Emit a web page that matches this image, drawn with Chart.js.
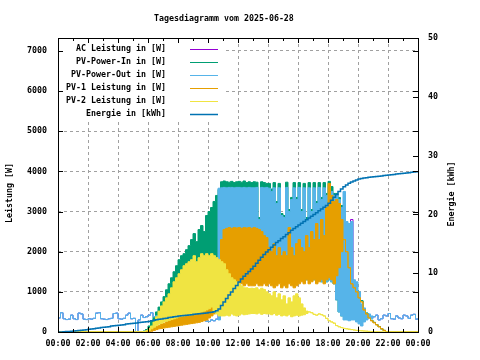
<!DOCTYPE html>
<html>
<head>
<meta charset="utf-8">
<script src="https://cdn.jsdelivr.net/npm/chart.js@4.4.1/dist/chart.umd.min.js"></script>
<style>
  html, body { margin: 0; padding: 0; background: #fff; }
</style>
</head>
<body>
<canvas id="chart" width="480" height="360"></canvas>
<script>
// sample times, every 10 minutes from 00:00 to 24:00
const sampleMinutes = Array.from({ length: 145 }, (_, i) => i * 10);

const xTickLabels = ["00:00", "02:00", "04:00", "06:00", "08:00", "10:00", "12:00",
                     "14:00", "16:00", "18:00", "20:00", "22:00", "00:00"];
const powerTicks = [0, 1000, 2000, 3000, 4000, 5000, 6000, 7000];
const energyTicks = [0, 10, 20, 30, 40, 50];

const seriesNames = ["AC Leistung in [W]", "PV-Power-In in [W]", "PV-Power-Out in [W]",
                     "PV-1 Leistung in [W]", "PV-2 Leistung in [W]", "Energie in [kWh]"];
const seriesColors = ["#9400d3", "#009e73", "#56b4e9", "#e69f00", "#f0e442", "#0072b2"];

// the power values flicker fast, so each one is kept as an upper and lower envelope
const acPower = [
  350, 480, 330, 310, 320, 420,
  330, 310, 470, 450, 320, 310,
  330, 320, 340, 470, 480, 330,
  320, 310, 330, 340, 460, 470,
  330, 320, 340, 420, 470, 330,
  340, 0, 300, 420, 360, 380,
  420, 480, 380, 400, 320, 300,
  290, 280, 300, 270, 260, 280,
  260, 300, 270, 280, 300, 290,
  280, 300, 320, 300, 310, 270,
  260, 300, 280, 320, 2000, 2200,
  2500, 2500, 2500, 2500, 2500, 2500,
  2500, 2500, 2500, 2500, 2500, 2500,
  2400, 2400, 2200, 2400, 2400, 2400,
  2300, 2300, 2300, 2200, 2300, 2100,
  2100, 2300, 2100, 2200, 2300, 2200,
  2300, 2100, 2300, 2000, 2300, 2100,
  2300, 2200, 2300, 2200, 2300, 2200,
  2300, 2300, 2200, 2000, 1500, 1700,
  1800, 1500, 1500, 2800, 800, 700,
  600, 400, 400, 370, 400, 360,
  380, 420, 300, 330, 420, 400,
  460, 330, 320, 400, 350, 330,
  420, 400, 340, 420, 440, 320,
  330
];

const pvInHi = [
  0, 0, 0, 0, 0, 0,
  0, 0, 0, 0, 0, 0,
  0, 0, 0, 0, 0, 0,
  0, 0, 0, 0, 0, 0,
  0, 0, 0, 0, 0, 0,
  0, 0, 0, 0, 20, 60,
  150, 260, 380, 500, 620, 750,
  880, 1050, 1200, 1350, 1500, 1650,
  1800, 1900, 1950, 2050, 2150, 2300,
  2450, 2250, 2550, 2650, 2500, 2900,
  3000, 3100, 3250, 3400, 3550, 3740,
  3760, 3740, 3730, 3750, 3720, 3740,
  3750, 3730, 3760, 3720, 3740, 3720,
  3740, 3730, 2850, 3740, 3720, 3700,
  3700, 3560, 3720, 3250, 3700, 2950,
  2900, 3730, 3050, 3350, 3720, 3350,
  3720, 3050, 3700, 2850, 3720, 3050,
  3720, 3250, 3720, 3350, 3720, 3450,
  3750, 3620, 3450, 3450, 3350, 3150,
  2400, 2100, 1700, 1300, 1150, 1040,
  890, 780, 580, 470, 370, 290,
  240, 185, 135, 80, 40, 10,
  0, 0, 0, 0, 0, 0,
  0, 0, 0, 0, 0, 0,
  0
];
const pvInLo = [
  0, 0, 0, 0, 0, 0,
  0, 0, 0, 0, 0, 0,
  0, 0, 0, 0, 0, 0,
  0, 0, 0, 0, 0, 0,
  0, 0, 0, 0, 0, 0,
  0, 0, 0, 0, 20, 60,
  100, 150, 250, 380, 500, 620,
  720, 820, 920, 1050, 1200, 1300,
  1400, 1500, 1600, 1650, 1700, 1750,
  1850, 1700, 1800, 1900, 1850, 1900,
  1850, 1900, 1850, 1800, 1750, 1700,
  1500, 1550, 1500, 1600, 1500, 1550,
  1500, 1550, 1600, 1500, 1550, 1500,
  1500, 1450, 1500, 1450, 1400, 1450,
  1400, 1350, 1400, 1350, 1400, 1300,
  1350, 1300, 1350, 1300, 1350, 1300,
  1350, 1300, 1350, 1300, 1350, 1300,
  1300, 1250, 1300, 1250, 1300, 1250,
  1300, 1250, 1200, 800, 500, 400,
  2400, 2100, 1700, 1300, 1150, 1040,
  890, 780, 580, 470, 370, 290,
  240, 185, 135, 80, 40, 10,
  0, 0, 0, 0, 0, 0,
  0, 0, 0, 0, 0, 0,
  0
];

const pvOutHi = [
  350, 480, 330, 310, 320, 420,
  330, 310, 470, 450, 320, 310,
  330, 320, 340, 470, 480, 330,
  320, 310, 330, 340, 460, 470,
  330, 320, 340, 420, 470, 330,
  340, 0, 300, 420, 360, 380,
  420, 480, 380, 400, 320, 300,
  290, 280, 300, 270, 260, 280,
  260, 300, 270, 280, 300, 290,
  280, 300, 320, 300, 310, 270,
  260, 300, 280, 320, 3580, 3590,
  3600, 3590, 3600, 3600, 3590, 3600,
  3600, 3590, 3600, 3590, 3600, 3590,
  3590, 3600, 2800, 3600, 3590, 3600,
  3580, 3500, 3590, 3200, 3590, 2900,
  2850, 3600, 3000, 3300, 3590, 3300,
  3600, 3000, 3590, 2800, 3590, 3000,
  3590, 3200, 3600, 3300, 3590, 3400,
  3600, 3500, 3400, 3400, 3300, 3100,
  3500, 2750, 2700, 2750, 1300, 1250,
  1000, 700, 600, 450, 450, 400,
  380, 420, 300, 330, 420, 400,
  460, 330, 320, 400, 350, 330,
  420, 400, 340, 420, 440, 320,
  330
];
const pvOutLo = [
  350, 480, 330, 310, 320, 420,
  330, 310, 470, 450, 320, 310,
  330, 320, 340, 470, 480, 330,
  320, 310, 330, 340, 460, 470,
  330, 320, 340, 420, 470, 330,
  340, 0, 300, 420, 360, 380,
  420, 480, 380, 400, 320, 300,
  290, 280, 300, 270, 260, 280,
  260, 300, 270, 280, 300, 290,
  280, 300, 320, 300, 310, 270,
  260, 300, 280, 320, 300, 500,
  1500, 1550, 1500, 1600, 1500, 1550,
  1500, 1550, 1600, 1500, 1550, 1500,
  1500, 1450, 1500, 1450, 1400, 1450,
  1400, 1350, 1400, 1350, 1400, 1300,
  1350, 1300, 1350, 1300, 1350, 1300,
  1350, 1300, 1350, 1300, 1350, 1300,
  1300, 1250, 1300, 1250, 1300, 1250,
  1300, 1250, 1200, 800, 500, 400,
  300, 300, 280, 300, 300, 250,
  200, 150, 250, 300, 350, 330,
  380, 420, 300, 330, 420, 400,
  460, 330, 320, 400, 350, 330,
  420, 400, 340, 420, 440, 320,
  330
];

const pv1Hi = [
  0, 0, 0, 0, 0, 0,
  0, 0, 0, 0, 0, 0,
  0, 0, 0, 0, 0, 0,
  0, 0, 0, 0, 0, 0,
  0, 0, 0, 0, 0, 0,
  0, 0, 0, 0, 0, 10,
  50, 80, 110, 140, 170, 200,
  220, 250, 280, 310, 340, 360,
  380, 400, 420, 440, 460, 480,
  500, 520, 540, 560, 600, 650,
  700, 800, 1000, 1400, 1800, 2300,
  2550, 2580, 2600, 2580, 2600, 2590,
  2600, 2580, 2600, 2590, 2600, 2580,
  2600, 2580, 2550, 2500, 2400, 2350,
  2100, 2000, 2200, 1900, 2100, 1900,
  2000, 1900, 2600, 2100, 1900, 2200,
  2300, 2100, 2000, 2400, 2100, 2500,
  2300, 2700, 2300, 2800, 2400, 3100,
  3700, 3400, 3250, 3300, 3200, 2800,
  2300, 2000, 1600, 1200, 1100, 1000,
  850, 750, 550, 450, 350, 280,
  230, 180, 130, 80, 40, 10,
  0, 0, 0, 0, 0, 0,
  0, 0, 0, 0, 0, 0,
  0
];
const pv1Lo = [
  0, 0, 0, 0, 0, 0,
  0, 0, 0, 0, 0, 0,
  0, 0, 0, 0, 0, 0,
  0, 0, 0, 0, 0, 0,
  0, 0, 0, 0, 0, 0,
  0, 0, 0, 0, 0, 0,
  10, 20, 40, 60, 80, 90,
  100, 110, 120, 130, 140, 150,
  160, 170, 180, 190, 200, 210,
  220, 230, 240, 260, 280, 300,
  350, 400, 450, 500, 600, 900,
  1200, 1150, 1150, 1200, 1150, 1200,
  1150, 1200, 1150, 1200, 1150, 1150,
  1150, 1200, 1150, 1150, 1200, 1150,
  1200, 1150, 1100, 1150, 1200, 1100,
  1150, 1100, 1200, 1150, 1100, 1150,
  1200, 1250, 1200, 1300, 1200, 1250,
  1300, 1200, 1250, 1300, 1200, 1300,
  1350, 1300, 1200, 1400, 1600, 2000,
  2300, 2000, 1600, 1200, 1100, 1000,
  850, 750, 550, 450, 350, 280,
  230, 180, 130, 80, 40, 10,
  0, 0, 0, 0, 0, 0,
  0, 0, 0, 0, 0, 0,
  0
];

const pv2Hi = [
  0, 0, 0, 0, 0, 0,
  0, 0, 0, 0, 0, 0,
  0, 0, 0, 0, 0, 0,
  0, 0, 0, 0, 0, 0,
  0, 0, 0, 0, 0, 0,
  0, 0, 0, 0, 10, 30,
  80, 150, 250, 380, 520, 650,
  750, 850, 950, 1100, 1250, 1350,
  1450, 1550, 1650, 1700, 1750, 1800,
  1900, 1750, 1850, 1950, 1900, 1950,
  1900, 1950, 1900, 1850, 1800, 1750,
  1700, 1550, 1450, 1350, 1300, 1250,
  1200, 1150, 1100, 1100, 1080, 1090,
  1080, 1100, 1050, 1090, 1060, 1000,
  950, 900, 1000, 850, 950, 800,
  900, 700, 850, 750, 900, 950,
  850, 700, 600, 520, 500, 480,
  440, 420, 450, 430, 400, 340,
  280, 250, 220, 160, 130, 110,
  90, 80, 70, 60, 50, 40,
  35, 30, 25, 20, 15, 10,
  8, 5, 3, 0, 0, 0,
  0, 0, 0, 0, 0, 0,
  0, 0, 0, 0, 0, 0,
  0
];
const pv2Lo = [
  0, 0, 0, 0, 0, 0,
  0, 0, 0, 0, 0, 0,
  0, 0, 0, 0, 0, 0,
  0, 0, 0, 0, 0, 0,
  0, 0, 0, 0, 0, 0,
  0, 0, 0, 0, 10, 30,
  40, 80, 120, 160, 200, 220,
  250, 270, 290, 310, 330, 350,
  380, 390, 400, 410, 420, 430,
  450, 470, 480, 500, 520, 550,
  580, 620, 500, 450, 400, 400,
  400, 420, 400, 450, 420, 400,
  420, 450, 430, 440, 450, 460,
  460, 450, 470, 440, 460, 450,
  450, 430, 460, 420, 440, 400,
  420, 400, 430, 380, 400, 420,
  400, 420, 430, 460, 500, 480,
  440, 420, 450, 430, 400, 340,
  280, 250, 220, 160, 130, 110,
  90, 80, 70, 60, 50, 40,
  35, 30, 25, 20, 15, 10,
  8, 5, 3, 0, 0, 0,
  0, 0, 0, 0, 0, 0,
  0, 0, 0, 0, 0, 0,
  0
];

// kWh, right axis
const energy = [
  0.0, 0.02, 0.05, 0.08, 0.1, 0.12,
  0.15, 0.2, 0.25, 0.3, 0.35, 0.4,
  0.45, 0.5, 0.55, 0.65, 0.7, 0.75,
  0.8, 0.85, 0.9, 1.0, 1.05, 1.1,
  1.15, 1.2, 1.25, 1.35, 1.4, 1.45,
  1.5, 1.55, 1.6, 1.65, 1.7, 1.75,
  1.8, 1.9, 2.0, 2.1, 2.15, 2.2,
  2.3, 2.35, 2.45, 2.5, 2.6, 2.65,
  2.7, 2.75, 2.8, 2.85, 2.9, 2.95,
  3.0, 3.05, 3.1, 3.15, 3.2, 3.25,
  3.3, 3.35, 3.45, 3.6, 3.9, 4.5,
  5.1, 5.7, 6.3, 6.8, 7.4, 7.9,
  8.5, 9.0, 9.5, 9.9, 10.3, 10.7,
  11.2, 11.7, 12.2, 12.7, 13.2, 13.6,
  14.0, 14.4, 14.8, 15.2, 15.5, 15.9,
  16.2, 16.6, 16.9, 17.3, 17.6, 17.9,
  18.2, 18.5, 18.8, 19.1, 19.4, 19.7,
  20.0, 20.3, 20.6, 20.9, 21.2, 21.5,
  21.9, 22.4, 22.9, 23.4, 23.9, 24.3,
  24.7, 25.0, 25.3, 25.5, 25.7, 25.85,
  26.0, 26.1, 26.2, 26.25, 26.3, 26.35,
  26.4, 26.45, 26.5, 26.55, 26.6, 26.65,
  26.7, 26.75, 26.8, 26.85, 26.9, 26.95,
  27.0, 27.05, 27.1, 27.15, 27.2, 27.25,
  27.3
];

const FONT_FAMILY = '"DejaVu Sans Mono", "Liberation Mono", monospace';
const FONT_SIZE = 8.3;
const FONT = "bold " + FONT_SIZE + "px " + FONT_FAMILY;

Chart.defaults.font.family = FONT_FAMILY;
Chart.defaults.font.size = FONT_SIZE;
Chart.defaults.font.weight = "bold";
Chart.defaults.color = "#000";

// band = line for the upper envelope filled down to the lower envelope
function band(label, hi, lo, color, order) {
    return [
        { label: label, data: hi, borderColor: color, backgroundColor: color,
          fill: "+1", order: order },
        { label: label + " (min)", data: lo, borderColor: color, fill: false, order: order },
    ];
}

// key drawn by hand, gnuplot style (text right aligned, sample on the right)
const keyPlugin = {
    id: "key",
    beforeDatasetsDraw(chart) {
        const ctx = chart.ctx;
        ctx.save();
        ctx.fillStyle = "#fff";
        ctx.fillRect(59, 39, 166, 81);
        ctx.font = FONT;
        ctx.textAlign = "right";
        ctx.textBaseline = "middle";
        seriesNames.forEach((name, i) => {
            const y = 49 + i * 13;
            ctx.fillStyle = "#000";
            ctx.fillText(name, 166, y);
            ctx.strokeStyle = seriesColors[i];
            ctx.lineWidth = i === 5 ? 1.5 : 1;
            ctx.beginPath();
            ctx.moveTo(190, y + 0.5);
            ctx.lineTo(218, y + 0.5);
            ctx.stroke();
        });
        ctx.restore();
    },
};

// border, inward ticks, title and axis titles
const framePlugin = {
    id: "frame",
    afterDraw(chart) {
        const { ctx, chartArea: a, scales } = chart;
        ctx.save();
        ctx.strokeStyle = "#000";
        ctx.lineWidth = 1;
        ctx.beginPath();
        scales.y.ticks.forEach((t) => {
            const py = Math.round(scales.y.getPixelForValue(t.value)) + 0.5;
            ctx.moveTo(a.left, py); ctx.lineTo(a.left + 5, py);
            ctx.moveTo(a.right, py); ctx.lineTo(a.right - 5, py);
        });
        scales.y2.ticks.forEach((t) => {
            const py = Math.round(scales.y2.getPixelForValue(t.value)) + 0.5;
            ctx.moveTo(a.right, py); ctx.lineTo(a.right - 5, py);
        });
        for (let h = 1; h < 24; h++) {
            const px = Math.round(scales.x.getPixelForValue(h * 60)) + 0.5;
            const len = h % 2 === 0 ? 5 : 3;
            ctx.moveTo(px, a.bottom); ctx.lineTo(px, a.bottom - len);
            ctx.moveTo(px, a.top); ctx.lineTo(px, a.top + len);
        }
        ctx.stroke();
        ctx.strokeRect(a.left + 0.5, a.top + 0.5, a.right - a.left, a.bottom - a.top);

        ctx.fillStyle = "#000";
        ctx.font = FONT;
        ctx.textBaseline = "middle";
        ctx.textAlign = "left";
        ctx.fillText("Tagesdiagramm vom 2025-06-28", 154, 18.5);

        ctx.textAlign = "center";
        ctx.save();
        ctx.translate(10, 193);
        ctx.rotate(-Math.PI / 2);
        ctx.fillText("Leistung [W]", 0, 0);
        ctx.restore();
        ctx.save();
        ctx.translate(452, 194);
        ctx.rotate(-Math.PI / 2);
        ctx.fillText("Energie [kWh]", 0, 0);
        ctx.restore();
        ctx.restore();
    },
};

const datasets = [
    { label: seriesNames[5], data: energy, borderColor: seriesColors[5], borderWidth: 1.5,
      yAxisID: "y2", order: 1 },
    ...band(seriesNames[4], pv2Hi, pv2Lo, seriesColors[4], 2),
    ...band(seriesNames[3], pv1Hi, pv1Lo, seriesColors[3], 3),
    ...band(seriesNames[2], pvOutHi, pvOutLo, seriesColors[2], 4),
    ...band(seriesNames[1], pvInHi, pvInLo, seriesColors[1], 5),
    { label: seriesNames[0], data: acPower, borderColor: seriesColors[0], order: 6 },
];

new Chart(document.getElementById("chart"), {
    type: "line",
    data: { labels: sampleMinutes, datasets: datasets },
    options: {
        responsive: false,
        animation: false,
        devicePixelRatio: 1,
        layout: { padding: { top: 38, left: 0, right: 0, bottom: 0 } },
        elements: {
            point: { radius: 0 },
            line: { borderWidth: 1, tension: 0, stepped: true },
        },
        plugins: {
            legend: { display: false },
            tooltip: { enabled: false },
        },
        scales: {
            x: {
                type: "linear",
                min: 0,
                max: 1440,
                afterFit: (scale) => { scale.height = 28; },
                ticks: {
                    stepSize: 120,
                    autoSkip: false,
                    maxRotation: 0,
                    padding: 7,
                    callback: (value) => xTickLabels[value / 120],
                },
                grid: { color: "#a0a0a0", drawTicks: false },
                border: { display: false, dash: [3, 3] },
            },
            y: {
                position: "left",
                min: 0,
                max: 7320,
                afterFit: (scale) => { scale.width = 58; },
                afterBuildTicks: (scale) => { scale.ticks = powerTicks.map((v) => ({ value: v })); },
                ticks: { padding: 11, callback: (value) => String(value) },
                grid: { color: "#a0a0a0", drawTicks: false },
                border: { display: false, dash: [3, 3] },
            },
            y2: {
                position: "right",
                min: 0,
                max: 50,
                afterFit: (scale) => { scale.width = 62; },
                afterBuildTicks: (scale) => { scale.ticks = energyTicks.map((v) => ({ value: v })); },
                ticks: { padding: 10, callback: (value) => String(value) },
                grid: { display: false, drawTicks: false },
                border: { display: false },
            },
        },
    },
    plugins: [keyPlugin, framePlugin],
});
</script>
</body>
</html>
